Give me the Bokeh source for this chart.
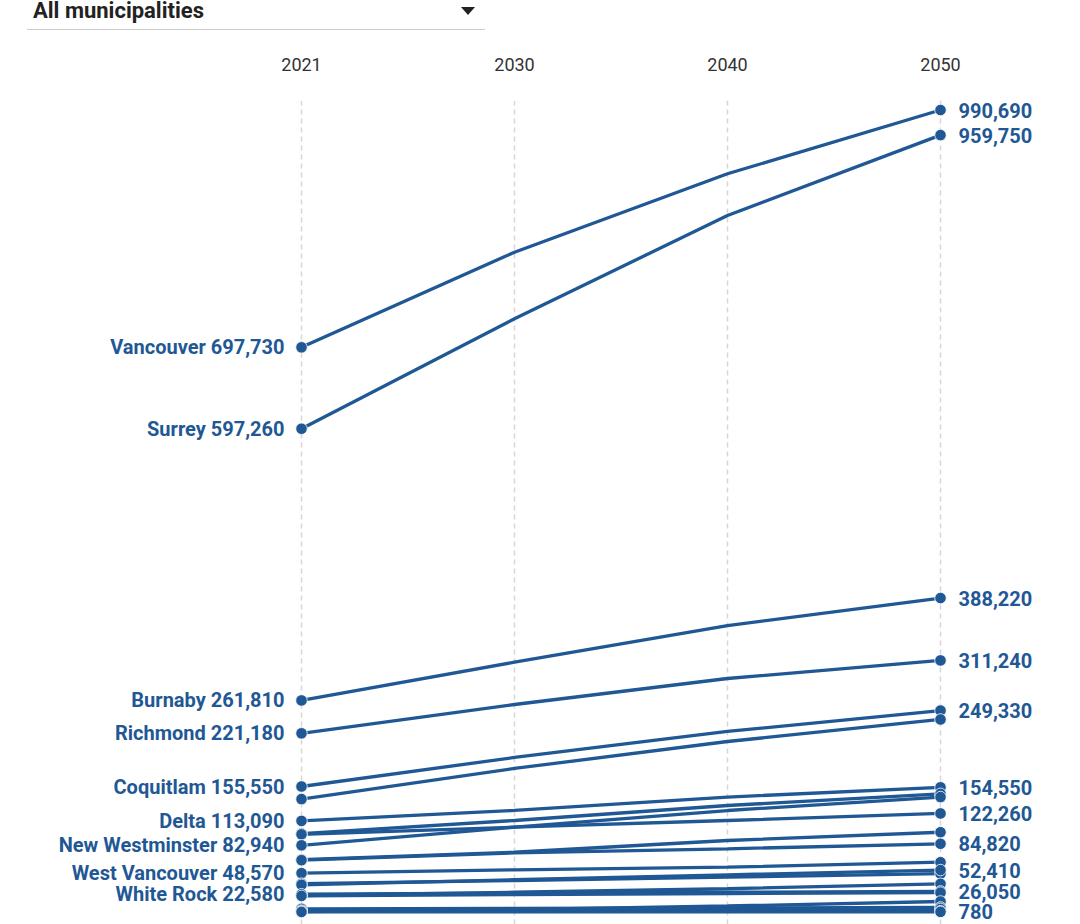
from bokeh.plotting import figure
from bokeh.models import ColumnDataSource, Range1d, FixedTicker, Div, LinearAxis, Grid
from bokeh.layouts import column
from bokeh.core.properties import value
from bokeh.embed import file_html
from bokeh.resources import INLINE

# ---------------- data ----------------
years = ["2021", "2030", "2040", "2050"]

municipalities = [
    "Vancouver", "Surrey", "Burnaby", "Richmond", "Coquitlam",
    "Langley Township", "Delta", "Maple Ridge", "North Vancouver District",
    "New Westminster", "Port Coquitlam", "North Vancouver City",
    "West Vancouver", "Port Moody", "Langley City", "Electoral Area A",
    "White Rock", "Pitt Meadows", "Tsawwassen First Nation", "Bowen Island",
    "Anmore", "Lions Bay", "Belcarra",
]
pop_2021 = [697730, 597260, 261810, 221180, 155550,
            140000, 113090, 97500, 96500,
            82940, 65400, 64600,
            48570, 35600, 34200, 21000,
            22580, 20500, 1000, 4500,
            2400, 1400, 700]
pop_2030 = [815200, 733000, 309000, 256800, 191400,
            177800, 126000, 113600, 105300,
            105300, 74400, 73500,
            52700, 39500, 40500, 25000,
            23800, 22000, 3500, 5000,
            3000, 1500, 730]
pop_2040 = [912000, 860500, 354300, 288900, 223500,
            211100, 142500, 132100, 113600,
            125900, 88900, 78600,
            55900, 43600, 46500, 29300,
            25000, 23300, 8000, 5600,
            3800, 1550, 760]
pop_2050 = [990690, 959750, 388220, 311240, 249330,
            238300, 154550, 146500, 122260,
            142500, 99100, 84820,
            62100, 48000, 52410, 35400,
            26050, 24500, 13600, 6200,
            4500, 1600, 780]

left_labelled = ["Vancouver", "Surrey", "Burnaby", "Richmond", "Coquitlam",
                 "Delta", "New Westminster", "West Vancouver", "White Rock"]
right_labelled = ["Vancouver", "Surrey", "Burnaby", "Richmond", "Coquitlam",
                  "Delta", "North Vancouver District", "North Vancouver City",
                  "Langley City", "White Rock", "Belcarra"]

# ---------------- style ----------------
BLUE = "#1f5894"
FONT = "Roboto"
W = 1064
HEADER_H = 34
FIG_H = 890
TOP = 66          # frame top at page y 100
X0_PX = 301       # frame pixel of first year
STEP_PX = 213     # pixels between year columns
PX_PER_UNIT = 0.00081
ZERO_Y = 912      # page y of zero
FRAME_TOP = HEADER_H + TOP
FRAME_BOTTOM = HEADER_H + FIG_H

xr = Range1d(-X0_PX / STEP_PX, (W - X0_PX) / STEP_PX)
yr = Range1d((ZERO_Y - FRAME_BOTTOM) / PX_PER_UNIT, (ZERO_Y - FRAME_TOP) / PX_PER_UNIT)

p = figure(width=W, height=FIG_H, x_range=xr, y_range=yr,
           output_backend="svg", toolbar_location=None,
           min_border_left=0, min_border_right=0, min_border_bottom=0,
           min_border_top=TOP, x_axis_location=None, y_axis_location=None,
           outline_line_color=None, background_fill_color="white",
           border_fill_color="white")
p.grid.visible = False

xi = list(range(len(years)))

top_axis = LinearAxis(ticker=FixedTicker(ticks=xi),
                      major_label_overrides={i: y for i, y in enumerate(years)},
                      axis_line_color=None, major_tick_line_color=None,
                      minor_tick_line_color=None, major_tick_out=0, major_tick_in=0,
                      major_label_standoff=30,
                      major_label_text_font=FONT,
                      major_label_text_font_size="18px",
                      major_label_text_color="#333333")
p.add_layout(top_axis, "above")

grid = Grid(dimension=0, ticker=FixedTicker(ticks=xi),
            grid_line_color="#d6d6d6", grid_line_dash="5 4", grid_line_width=1.5)
p.add_layout(grid)

for a, b, c, d in zip(pop_2021, pop_2030, pop_2040, pop_2050):
    p.line(x=xi, y=[a, b, c, d], line_color=BLUE, line_width=3.3)

ends = ColumnDataSource(dict(
    x=[xi[0]] * len(pop_2021) + [xi[-1]] * len(pop_2050),
    y=pop_2021 + pop_2050,
))
p.scatter(x="x", y="y", source=ends, size=11.5, fill_color=BLUE,
          line_color="white", line_width=0.8)

left_src = ColumnDataSource(dict(
    x=[xi[0]] * len(left_labelled),
    y=[pop_2021[municipalities.index(m)] for m in left_labelled],
    t=[f"{m} {pop_2021[municipalities.index(m)]:,}" for m in left_labelled],
))
p.text(x="x", y="y", text="t", source=left_src, text_font=value(FONT),
       text_font_style="bold", text_font_size="20px", text_color=BLUE,
       text_align="right", text_baseline="middle", x_offset=-17)

right_src = ColumnDataSource(dict(
    x=[xi[-1]] * len(right_labelled),
    y=[pop_2050[municipalities.index(m)] for m in right_labelled],
    t=[f"{pop_2050[municipalities.index(m)]:,}" for m in right_labelled],
))
p.text(x="x", y="y", text="t", source=right_src, text_font=value(FONT),
       text_font_style="bold", text_font_size="20px", text_color=BLUE,
       text_align="left", text_baseline="middle", x_offset=18)

header_html = (
    '<div style="position:relative;top:0px;margin-left:27px;width:458px;height:30px;'
    'border-bottom:1px solid #cfcfcf;font-family:Roboto,sans-serif;">'
    '<span style="position:absolute;left:6px;top:0px;line-height:22px;font-size:22px;'
    'font-weight:bold;color:#222;white-space:nowrap;">All municipalities</span>'
    '<span style="position:absolute;right:10px;top:7px;width:0;height:0;'
    'border-left:7px solid transparent;border-right:7px solid transparent;'
    'border-top:8px solid #222;"></span>'
    '</div>'
)
header = Div(text=header_html, width=W, height=HEADER_H, margin=0)

layout = column(header, p, spacing=0)

open("out.html", "w").write(file_html(layout, INLINE))
